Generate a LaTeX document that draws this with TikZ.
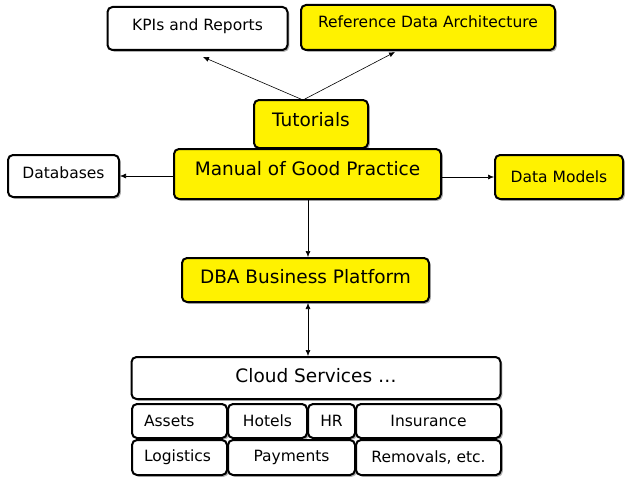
\documentclass[tikz,border=0pt]{standalone}
\usepackage{fontspec}
\setmainfont{DejaVu Sans}
\usetikzlibrary{arrows.meta,shadows}
\tikzset{
  box/.style={draw, line width=2pt, rounded corners=5pt, fill=white, inner sep=0pt,
    drop shadow={shadow xshift=1.8pt, shadow yshift=-1.8pt, fill=black!50, opacity=0.6},
    font=\fontsize{15.5}{18}\selectfont},
  ybox/.style={box, fill=yellow},
  big/.style={font=\fontsize{18.5}{22}\selectfont},
  raised/.style={text depth=#1},
  arr/.style={-{Latex[length=6pt,width=5pt]}, line width=0.6pt},
  darr/.style={{Latex[length=6pt,width=5pt]}-{Latex[length=6pt,width=5pt]}, line width=0.6pt},
}
\begin{document}
\begin{tikzpicture}[x=1pt,y=-1pt]
      \useasboundingbox (0,0) rectangle (634,487);
      \node[box, raised=7pt, minimum width=180, minimum height=43] (kpi) at (197.5,28.5) {KPIs and Reports};
      \node[ybox, raised=11pt, minimum width=254, minimum height=45] (ref) at (428,27.5) {Reference Data Architecture};
      \node[ybox, big, raised=9pt, minimum width=114, minimum height=48] (tut) at (311,124) {Tutorials};
      \node[ybox, big, raised=11pt, minimum width=267, minimum height=50] (manual) at (307.5,174) {Manual of Good Practice};
      \node[box, raised=7pt, minimum width=111, minimum height=42] (db) at (63.5,176) {Databases};
      \node[ybox, minimum width=128, minimum height=44] (models) at (559,177) {Data Models};
      \node[ybox, big, raised=7pt, minimum width=247, minimum height=44] (dba) at (305.5,280) {DBA Business Platform};
      \node[box, big, raised=6pt, minimum width=369, minimum height=42] (cloud) at (316,378) {Cloud Services \dots};
      \node[box, minimum width=95, minimum height=34, text width=71, align=left] (assets) at (179.5,421) {Assets};
      \node[box, minimum width=79, minimum height=34] (hotels) at (267.5,421) {Hotels};
      \node[box, minimum width=47, minimum height=34] (hr) at (331.5,421) {HR};
      \node[box, minimum width=145, minimum height=34] (ins) at (428.5,421) {Insurance};
      \node[box, minimum width=95, minimum height=35, text width=71, align=left] (logi) at (179.5,457.5) {Logistics};
      \node[box, minimum width=127, minimum height=35] (pay) at (291.5,457.5) {Payments};
      \node[box, minimum width=145, minimum height=35] (rem) at (428.5,457.5) {Removals, etc.};
      % arrow ends
      \coordinate (kpitip) at (203,57);
      \coordinate (reftip) at (395,52);
      \coordinate (tuttop) at (303,100);
      \draw[arr] (tuttop) -- (kpitip);
      \draw[arr] (tuttop) -- (reftip);
      \draw[arr] (manual.west |- db.east) -- (db.east);
      \draw[arr] (manual.east |- models.west) -- (models.west);
      \draw[arr] ([xshift=2.5pt]dba.north |- manual.south) -- ([xshift=2.5pt]dba.north);
      \draw[darr] ([xshift=2.5pt]dba.south) -- ([xshift=-8pt]cloud.north);
    \end{tikzpicture}
\end{document}
